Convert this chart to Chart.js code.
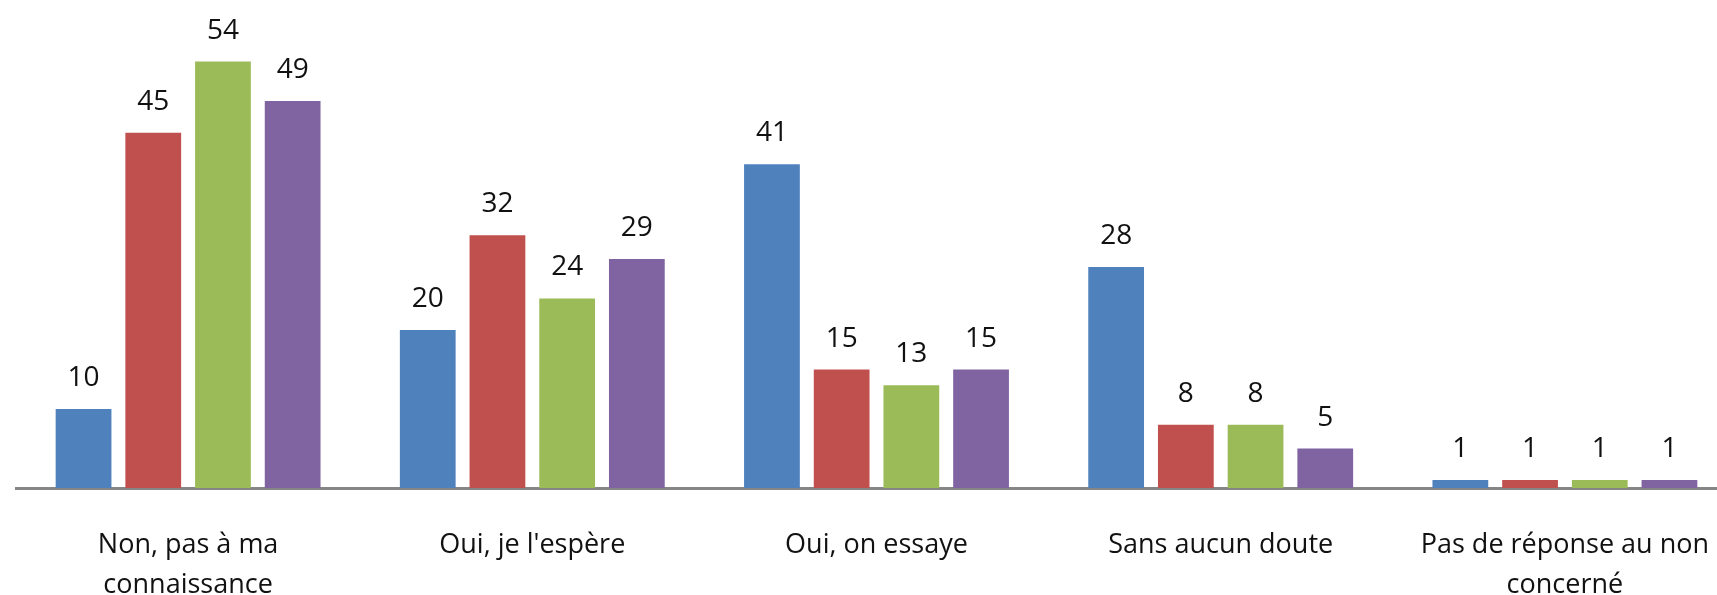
<!DOCTYPE html>
<html>
<head>
<meta charset="utf-8">
<script src="https://cdn.jsdelivr.net/npm/chart.js@4/dist/chart.umd.min.js"></script>
<style>
  html, body { margin: 0; padding: 0; background: #fff; overflow: hidden; }
  #wrap { width: 1737px; height: 595px; }
</style>
</head>
<body>
<div id="wrap"><canvas id="chart" width="1737" height="595"></canvas></div>
<script>
// categories (x axis, wrapped like the original)
const categories = [
    ['Non, pas à ma', 'connaissance'],
    ["Oui, je l'espère"],
    ['Oui, on essaye'],
    ['Sans aucun doute'],
    ['Pas de réponse au non', 'concerné']
];

// one array per series
const serie1 = [10, 20, 41, 28, 1];
const serie2 = [45, 32, 15, 8, 1];
const serie3 = [54, 24, 13, 8, 1];
const serie4 = [49, 29, 15, 5, 1];

const colors = ['#4F81BD', '#C0504D', '#9BBB59', '#8064A2'];

// etiquetas de valor encima de cada barra
const valueLabels = {
    id: 'valueLabels',
    afterDatasetsDraw(chart) {
        const ctx = chart.ctx;
        ctx.save();
        ctx.font = '28px "Open Sans"';
        ctx.fillStyle = '#111';
        ctx.textAlign = 'center';
        ctx.textBaseline = 'alphabetic';
        chart.data.datasets.forEach((ds, i) => {
            chart.getDatasetMeta(i).data.forEach((bar, j) => {
                ctx.fillText(String(ds.data[j]), bar.x, bar.y - 23);
            });
        });
        ctx.restore();
    }
};

const ctx = document.getElementById('chart').getContext('2d');
new Chart(ctx, {
    type: 'bar',
    data: {
        labels: categories,
        datasets: [serie1, serie2, serie3, serie4].map((d, i) => ({
            label: 'Série ' + (i + 1),
            data: d,
            backgroundColor: colors[i],
            borderWidth: 0,
            categoryPercentage: 0.81,
            barPercentage: 0.8
        }))
    },
    options: {
        responsive: false,
        animation: false,
        layout: { padding: { left: 16, right: 0, top: 0, bottom: 0 } },
        plugins: {
            legend: { display: false },
            tooltip: { enabled: false }
        },
        scales: {
            x: {
                grid: { display: false, drawTicks: false },
                border: { display: true, color: '#868686', width: 3 },
                ticks: {
                    color: '#111',
                    font: { family: '"Open Sans"', size: 27, lineHeight: '40px' },
                    padding: 37,
                    maxRotation: 0,
                    autoSkip: false
                },
                afterFit(scale) {
                    // altura fija y sin margen extra por las etiquetas largas
                    scale.height = 107;
                    scale.paddingLeft = 0;
                    scale.paddingRight = 0;
                }
            },
            y: {
                display: false,
                min: 0,
                max: 61.8
            }
        }
    },
    plugins: [valueLabels]
});
</script>
</body>
</html>
